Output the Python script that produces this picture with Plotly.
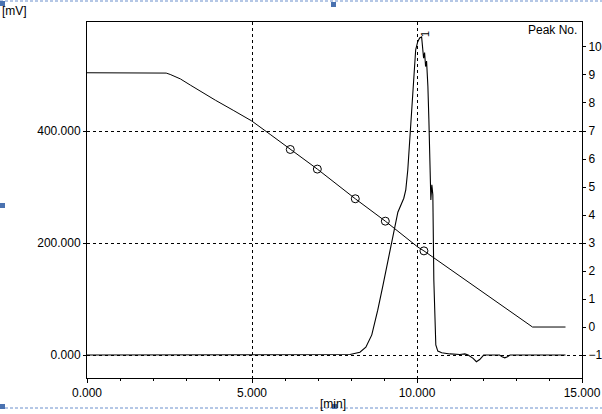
import plotly.graph_objects as go

# ---------------- data ----------------
# chromatogram signal [min], [mV]
sig_t = [0.0, 7.90, 7.97, 8.27, 8.45, 8.63, 8.81, 8.97, 9.12, 9.27, 9.42, 9.60, 9.66,
         9.72, 9.78, 9.84, 9.90, 9.96, 10.02, 10.08, 10.14, 10.17, 10.20, 10.23, 10.26,
         10.29, 10.33, 10.36, 10.39, 10.42, 10.45, 10.48, 10.51, 10.54, 10.57, 10.63,
         10.75, 11.0, 11.3, 11.45, 11.55, 11.70, 11.80, 11.90, 12.02, 12.3, 12.5, 12.58,
         12.66, 12.74, 12.82, 13.5, 14.5]
sig_v = [0.0, 0.0, 1.0, 5, 14, 36, 80, 125, 170, 214, 255, 280, 295,
         330, 384, 455, 509, 545, 559, 566, 568, 554, 530, 540, 515,
         525, 480, 420, 321, 277, 304, 286, 134, 45, 18, 7,
         4, 2, 1, 2, 0, -6, -12, -8, 0, 0, 0, -3,
         -5, -3, 0, 0, 0]

# gradient programme curve (plotted in mV scale)
grad_t = [0.0, 2.28, 2.40, 2.52, 2.67, 2.83, 3.13, 3.43, 3.89, 4.43, 4.99, 5.55, 6.16,
          6.98, 8.13, 9.04, 10.02, 10.21, 13.5, 14.5]
grad_v = [504, 504, 503.4, 501, 497.5, 493, 482, 471, 455, 437, 418, 394, 367,
          332, 279, 239, 193, 186, 50, 50]

# marked points on the gradient curve
mark_t = [6.16, 6.98, 8.13, 9.04, 10.21]
mark_v = [367, 332, 279, 239, 186]

x_ticks = [0, 5, 10, 15]
x_labels = ["0.000", "5.000", "10.000", "15.000"]
y_ticks = [0, 200, 400]
y_labels = ["0.000", "200.000", "400.000"]
peak_no_ticks = list(range(-1, 11))

# ---------------- figure ----------------
W, H = 602, 414
L, R, T, B = 87, 20, 22, 36
pw, ph = W - L - R, H - T - B
ymin, ymax = -41, 594.6


def px(x):
    return (x - L) / pw


def py(y):
    return (H - B - y) / ph


font = dict(family="Liberation Sans, Arial, sans-serif", size=12, color="black")

fig = go.Figure()
fig.add_trace(go.Scatter(x=grad_t, y=grad_v, mode="lines",
                         line=dict(color="black", width=1), hoverinfo="skip"))
fig.add_trace(go.Scatter(x=mark_t, y=mark_v, mode="markers",
                         marker=dict(symbol="circle-open", size=8,
                                     color="black", line=dict(width=1)),
                         hoverinfo="skip"))
fig.add_trace(go.Scatter(x=sig_t, y=sig_v, mode="lines",
                         line=dict(color="black", width=1.1), hoverinfo="skip"))
# invisible trace to activate right axis
fig.add_trace(go.Scatter(x=[0], y=[0], yaxis="y2", mode="markers",
                         marker=dict(opacity=0), hoverinfo="skip"))

fig.update_layout(
    width=W, height=H,
    margin=dict(l=L, r=R, t=T, b=B, pad=0, autoexpand=False),
    paper_bgcolor="white", plot_bgcolor="white",
    showlegend=False, font=font,
    xaxis=dict(range=[0, 15], tickvals=x_ticks, ticktext=x_labels, automargin=False,
               ticks="outside", ticklen=4, tickcolor="black", tickwidth=1,
               minor=dict(dtick=1, ticks="outside", ticklen=2, tickcolor="black",
                          showgrid=False),
               showline=True, linecolor="black", linewidth=1, mirror=True,
               showgrid=True, gridcolor="black", gridwidth=1, griddash="3px,3px",
               zeroline=False, tickfont=font),
    yaxis=dict(range=[ymin, ymax], tickvals=y_ticks, ticktext=y_labels, automargin=False,
               ticks="outside", ticklen=3, tickcolor="black",
               showline=True, linecolor="black", linewidth=1, mirror=True,
               showgrid=True, gridcolor="black", gridwidth=1, griddash="3px,3px",
               zeroline=False, tickfont=font),
    yaxis2=dict(range=[-1 + ymin / 50, -1 + ymax / 50], overlaying="y", side="right",
                automargin=False,
                tickvals=peak_no_ticks, ticks="outside", ticklen=3, tickcolor="black",
                showline=True, linecolor="black", linewidth=1, showgrid=False,
                zeroline=False, tickfont=font),
)

ann = [
    dict(text="[mV]", x=px(0), y=py(11), xanchor="left", yanchor="middle"),
    dict(text="Peak No.", x=px(579), y=py(30), xanchor="right", yanchor="middle"),
    dict(text="[min]", x=px(333), y=py(404), xanchor="center", yanchor="middle"),
]
for a in ann:
    fig.add_annotation(xref="paper", yref="paper", showarrow=False, font=font, **a)
fig.add_annotation(xref="x", yref="paper", x=10.24, y=py(34), text="1",
                   textangle=-90, showarrow=False, font=dict(family=font["family"], size=11),
                   xanchor="center", yanchor="middle")

blue = "#6a8fcc"
for yy in (1, 408):
    fig.add_shape(type="line", xref="paper", yref="paper", x0=px(0), x1=px(602),
                  y0=py(yy), y1=py(yy), line=dict(color=blue, width=1, dash="3px,2px"))
for (sx, sy) in [(0, 1), (331, 2), (0, 203), (0, 404), (332, 404)]:
    fig.add_shape(type="rect", xref="paper", yref="paper", x0=px(sx), x1=px(sx + 5),
                  y0=py(sy + 5), y1=py(sy), fillcolor="#4a72b0", line=dict(width=0))

fig.write_html("out.html", config={"displayModeBar": False},
               post_script="document.body.style.margin='0';"
                           "document.body.style.overflow='hidden';")
